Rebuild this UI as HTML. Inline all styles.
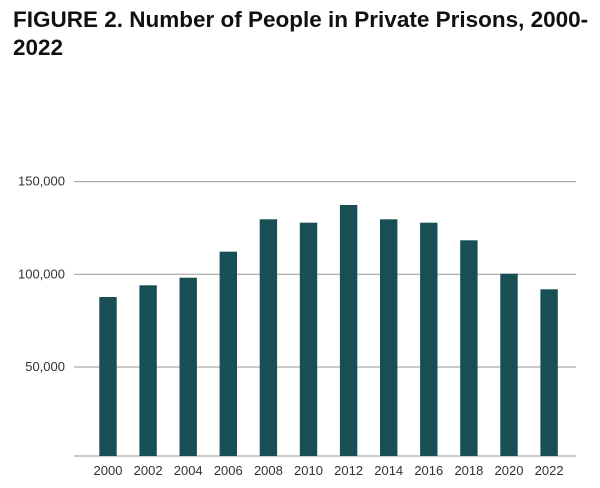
<!DOCTYPE html>
<html><head><meta charset="utf-8"><style>
body{margin:0;background:#fff;width:600px;height:488px;overflow:hidden;font-family:"Liberation Sans",sans-serif}
h1{position:absolute;left:13px;top:6px;margin:0;font-size:22.5px;line-height:28px;font-weight:bold;color:#111;width:580px}
svg{position:absolute;left:0;top:0}
</style></head><body>
<h1>FIGURE 2. Number of People in Private Prisons, 2000-2022</h1>
<svg id="c" width="600" height="488"></svg>
<script>
const years=["2000","2002","2004","2006","2008","2010","2012","2014","2016","2018","2020","2022"];
const people=[87750,94060,98170,112200,129680,127850,137400,129680,127850,118350,100320,91900];
const yTicks=[50000,100000,150000];
const yTickLabels=["50,000","100,000","150,000"];
const svg=document.getElementById('c');
const NS='http://www.w3.org/2000/svg';
function y(v){return 459.6-v/50000*92.65;}
function x(i){return 108+i*40.1;}
function mk(t,a){const e=document.createElementNS(NS,t);for(const k in a)e.setAttribute(k,a[k]);svg.appendChild(e);return e;}
yTicks.forEach((v,i)=>{
  const l=mk('line',{x1:74,x2:576,y1:y(v),y2:y(v),stroke:'#999','stroke-width':1});
  
  
  const t=mk('text',{x:65,y:y(v)+4,'text-anchor':'end','font-size':13,fill:'#333'});
  t.textContent=yTickLabels[i];
  
  
});
const base=mk('line',{x1:74,x2:576,y1:456,y2:456,stroke:'#999','stroke-width':1});


people.forEach((v,i)=>{
  const r=mk('rect',{x:x(i)-8.7,y:y(v),width:17.4,height:456-y(v),fill:'#174f55'});
  
  
  const t=mk('text',{x:x(i),y:475,'text-anchor':'middle','font-size':13,fill:'#333'});
  t.textContent=years[i];
  
  
});
</script>
</body></html>
